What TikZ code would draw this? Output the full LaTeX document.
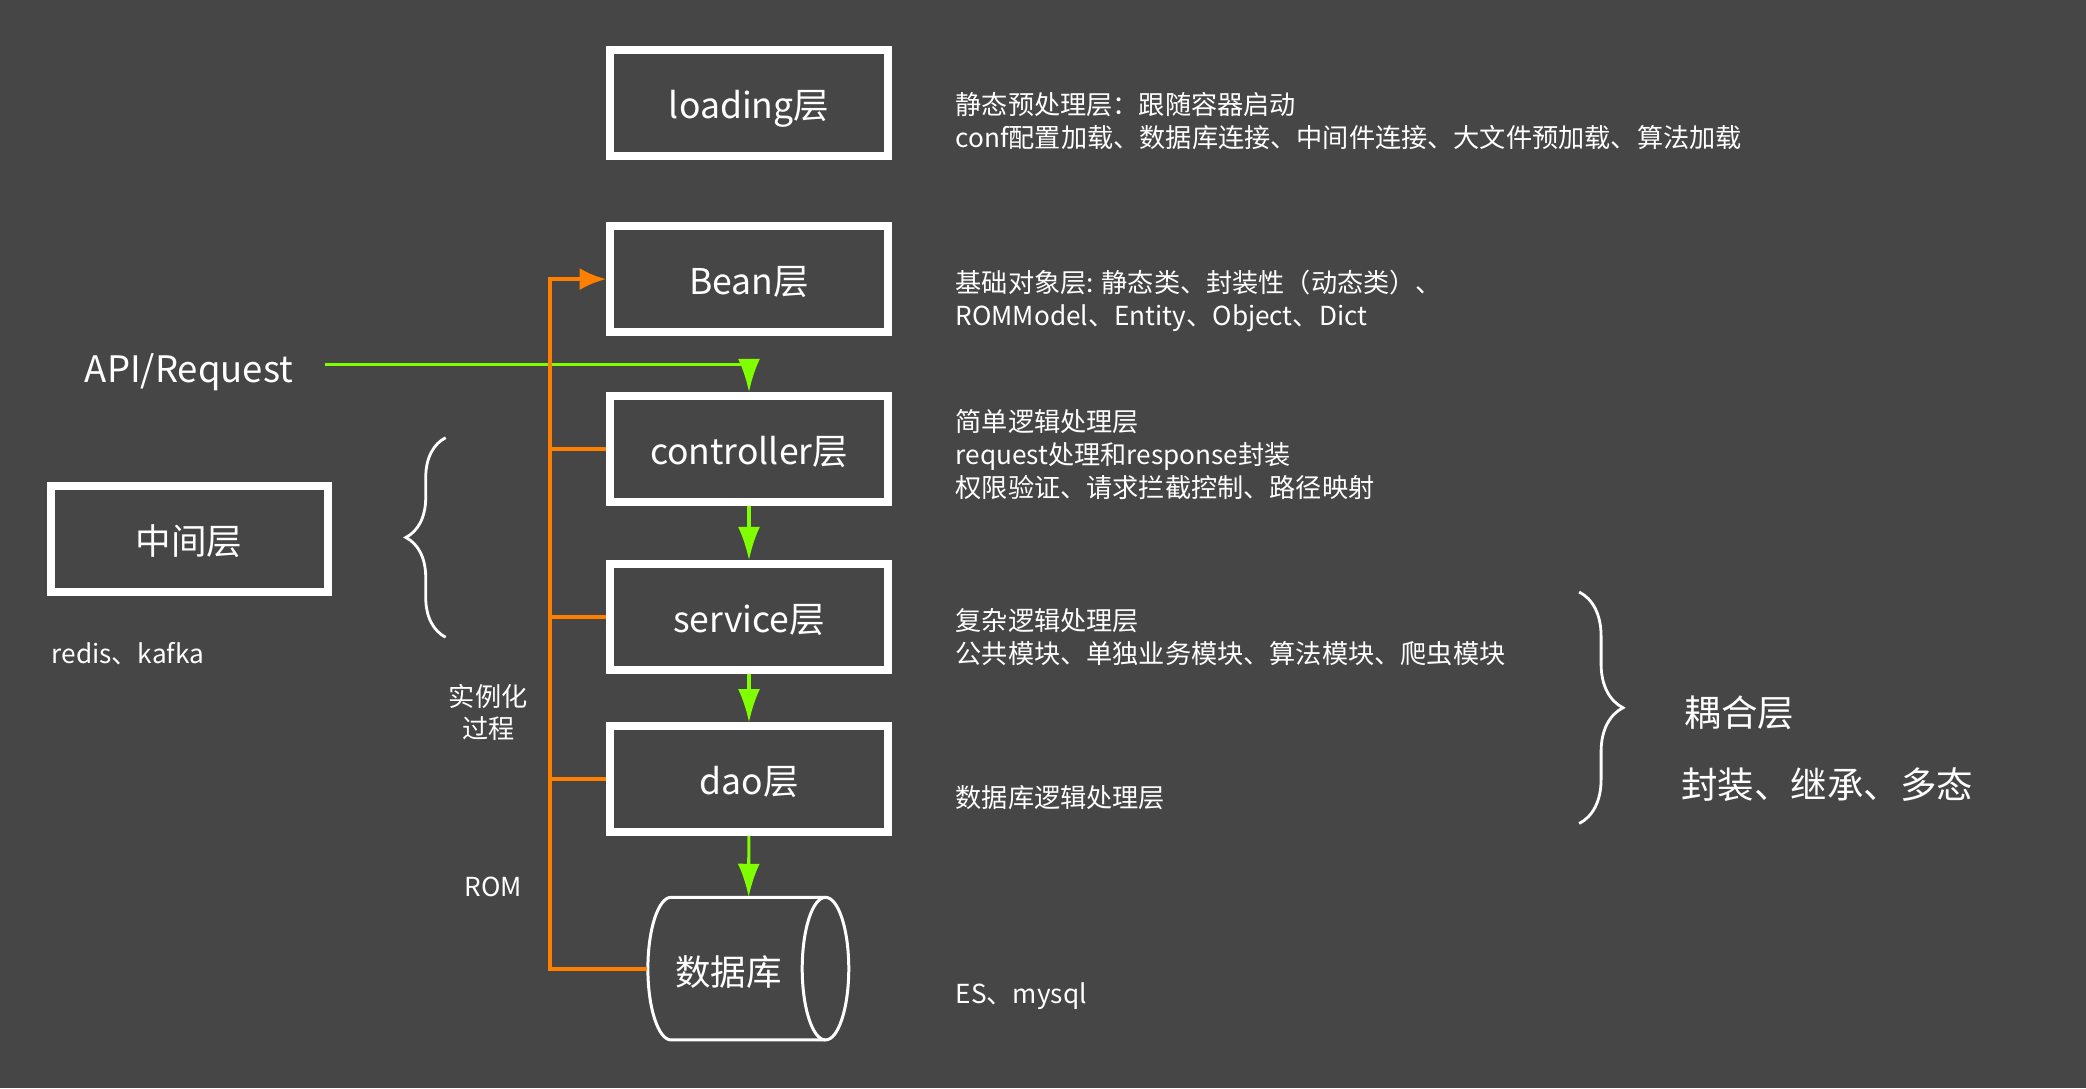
\documentclass[tikz,border=0pt]{standalone}
\usepackage{fontspec}
\setmainfont{Noto Sans CJK SC}
\usetikzlibrary{arrows.meta,decorations.pathreplacing}
\definecolor{slide}{RGB}{70,70,70}
\definecolor{romorange}{RGB}{255,127,0}
\definecolor{callgreen}{RGB}{127,255,0}

\newcommand{\layerbox}[3]
{\node [layer] (#1) at (563,#2) {#3};
}
\newcommand{\notetext}[3]
{\node [note] (#1) at (718,#2) {#3};
}
\newcommand{\drawdb}[1][]
{\begin{scope}
	\draw [#1] (620.5,674.5) -- (504.5,674.5) arc [start angle=270, end angle=90, x radius=17.5, y radius=53.6] -- (620.5,781.7);
	\draw [#1] (620.5,728.1) ellipse [x radius=17.5, y radius=53.6];
	\end{scope}
}

\begin{document}
\begin{tikzpicture}[x={(0.02cm,0)},y={(0,-0.02cm)}, >=Latex,
	layer/.style={draw=white, line width=0.12cm, minimum width=4.17cm, minimum height=1.59cm, inner sep=0pt, text=white, text height=1.34em, text depth=0pt, font=\fontsize{15.2}{18}\selectfont},
	note/.style={anchor=west, align=left, inner sep=0pt, text=white, font=\fontsize{11.2}{14}\selectfont},
	bigtext/.style={inner sep=0pt, text=white, font=\fontsize{15.6}{18}\selectfont},
	call/.style={draw=callgreen, line width=0.046cm, -{Latex[length=0.5cm,width=0.33cm]}},
	romline/.style={draw=romorange, line width=0.06cm},
	curly/.style={draw=white, line width=1.2pt, decorate}]

\fill [slide] (0,0) rectangle (1568,818);
\useasboundingbox (0,0) rectangle (1568,818);

% layers
\layerbox{loading}{77.4}{loading层}
\layerbox{bean}{209.8}{Bean层}
\layerbox{controller}{337.5}{controller层}
\layerbox{service}{463.8}{service层}
\layerbox{dao}{585.7}{dao层}
\node [inner sep=0pt, minimum width=3.03cm, minimum height=2.14cm] (db) at (562.6,728.1) {};
\drawdb[white, line width=0.045cm]
\node [bigtext, font=\fontsize{15.2}{18}\selectfont] (dbname) at (547.5,731) {数据库};

\node [layer] (middle) at (142.2,404.9) {中间层};
\node [note] (mwnote) at (38.5,491.5) {redis、kafka};
\node [bigtext] (api) at (142,280) {API/Request};

% request flow
\draw [call] (api.east) ++(24,-6) -| (controller.north);
\draw [call] (controller) -- (service);
\draw [call] (service) -- (dao);
\draw [call] (dao) -- (db);

% instantiation
\coordinate (trunk) at (413.4,0);
\draw [romline,-{Latex[length=0.4cm,width=0.33cm]}] (db.west) -- (db.west -| trunk) -- (bean.west -| trunk) -- (bean.west);
\foreach \n in {controller,service,dao}
	{\draw [romline] (\n.west -| trunk) -- (\n.west);
	};
\node [note, anchor=center, align=center] (inst) at (367,535.5) {实例化\\过程};
\node [note, anchor=center] (romlabel) at (371,667) {ROM};

% braces
\draw [curly, decoration={brace,amplitude=0.6cm}] (335,479) -- (335,329);
\draw [curly, decoration={brace,amplitude=0.66cm}] (1187,445) -- (1187,619);
\node [bigtext, anchor=west] (coupling) at (1266,536) {耦合层};
\node [bigtext, anchor=west] (oop) at (1263.5,589.5) {封装、继承、多态};

% notes
\notetext{loadingnote}{91}{静态预处理层：跟随容器启动\\conf配置加载、数据库连接、中间件连接、大文件预加载、算法加载}
\notetext{beannote}{226}{基础对象层: 静态类、封装性（动态类）、\\ROMModel、Entity、Object、Dict}
\notetext{controllernote}{341.8}{简单逻辑处理层\\request处理和response封装\\权限验证、请求拦截控制、路径映射}
\notetext{servicenote}{479}{复杂逻辑处理层\\公共模块、单独业务模块、算法模块、爬虫模块}
\notetext{daonote}{599.6}{数据库逻辑处理层}
\notetext{dbnote}{748.5}{ES、mysql}

\end{tikzpicture}
\end{document}
